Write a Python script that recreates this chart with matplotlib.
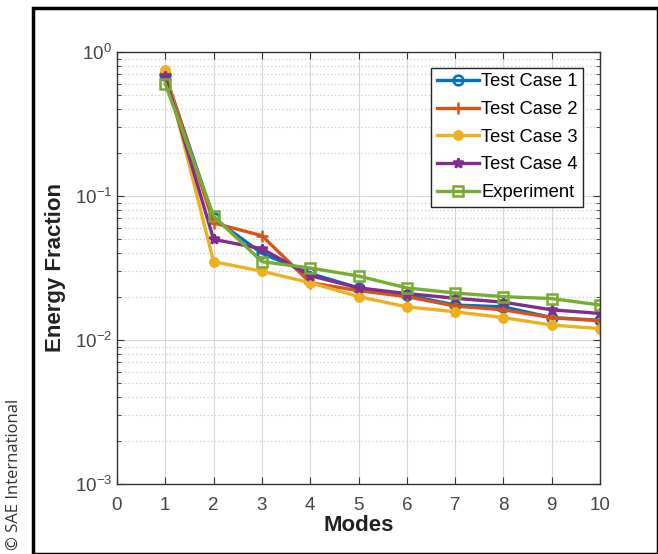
import numpy as np
import matplotlib.pyplot as plt
from matplotlib.patches import Rectangle

plt.rcParams.update({'font.family': ['Liberation Sans', 'DejaVu Sans'], 'font.size': 12})

modes = [1, 2, 3, 4, 5, 6, 7, 8, 9, 10]
test_case_1 = [0.69, 0.070, 0.040, 0.029, 0.023, 0.0205, 0.0175, 0.0170, 0.0143, 0.0137]
test_case_2 = [0.70, 0.065, 0.053, 0.025, 0.022, 0.0200, 0.0172, 0.0162, 0.0143, 0.0136]
test_case_3 = [0.75, 0.035, 0.030, 0.025, 0.020, 0.0170, 0.0157, 0.0143, 0.0127, 0.0120]
test_case_4 = [0.68, 0.050, 0.043, 0.028, 0.023, 0.0210, 0.0195, 0.0183, 0.0162, 0.0153]
experiment = [0.60, 0.0726, 0.035, 0.0316, 0.0278, 0.0230, 0.0212, 0.0200, 0.0194, 0.0175]

series = [
	('Test Case 1', test_case_1, '#0072BD', 'o', 'none', 7),
	('Test Case 2', test_case_2, '#D95319', '+', None, 8),
	('Test Case 3', test_case_3, '#EDB120', 'o', '#EDB120', 6),
	('Test Case 4', test_case_4, '#7E2F8E', '*', None, 7),
	('Experiment', experiment, '#77AC30', 's', 'none', 6.5),
]

fig = plt.figure(figsize=(6.58, 5.54), dpi=100)
ax = fig.add_axes([117 / 658, 1 - 484 / 554, (600 - 117) / 658, (484 - 52) / 554])

for label, values, color, marker, face, size in series:
	kw = dict(color=color, lw=2.4, marker=marker, ms=size, mew=1.8, label=label)
	if face is not None:
		kw['markerfacecolor'] = face
	ax.plot(modes, values, **kw)

ax.set_yscale('log')
ax.set_xlim(0, 10)
ax.set_ylim(1e-3, 1)
ax.set_xticks(range(0, 11))
ax.grid(True, which='major', color='#d8d8d8', lw=0.8)
ax.grid(True, which='minor', axis='y', color='#c8c8c8', lw=0.9, ls=(0, (1, 2)))
ax.set_axisbelow(True)
for s in ax.spines.values():
	s.set_color('#333333')
	s.set_linewidth(1.0)
ax.tick_params(which='both', direction='in', top=True, right=True, colors='#333333',
	labelcolor='#444444', labelsize=13.5)
ax.tick_params(which='major', length=5)
ax.tick_params(which='minor', length=3)
ax.tick_params(axis='x', pad=9)

ax.set_xlabel('Modes', fontsize=16, fontweight='bold', color='#222222', labelpad=1)
ax.set_ylabel('Energy Fraction', fontsize=16, fontweight='bold', color='#222222', labelpad=6)

leg = ax.legend(loc='upper right', bbox_to_anchor=(0.965, 0.963), fancybox=False,
	framealpha=1, edgecolor='#222222', fontsize=13.2, handlelength=2.3,
	handletextpad=0.12, borderpad=0.3, labelspacing=0.58, borderaxespad=0)
leg.get_frame().set_linewidth(1.0)

# outer frame and credit
fig.patches.append(Rectangle((33 / 658, 0), 1 - 33 / 658, 1 - 8 / 554, transform=fig.transFigure,
	fill=False, ec='black', lw=2.5))
fig.text(14 / 658, 0.008, '© SAE International', rotation=90, fontsize=12,
	family=['Open Sans', 'DejaVu Sans'], color='#333333', va='bottom', ha='center')

fig.savefig('out.png', dpi=100)
